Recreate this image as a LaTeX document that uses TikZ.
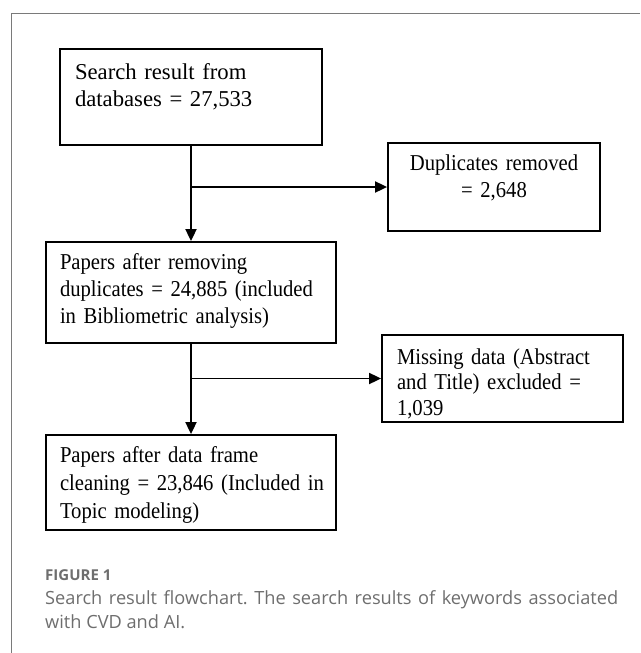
\documentclass[tikz,border=0pt]{standalone}
\usepackage{fontspec}
\setmainfont{Liberation Serif}
\newfontfamily\narrowserif[FakeStretch=0.91]{Liberation Serif}
\newfontfamily\capfont{Open Sans}
\usetikzlibrary{arrows.meta}
\definecolor{framegray}{HTML}{7A7A7A}
\definecolor{capgray}{HTML}{6E6E6E}
\newcommand\bigboxfont{\fontsize{22.7}{27}\selectfont}
\newcommand\boxfont{\narrowserif\fontsize{22.7}{27}\selectfont}
\newcommand\captxtfont{\capfont\fontsize{18.2}{24}\selectfont\frenchspacing}
\newcommand\caplabfont{\capfont\bfseries\fontsize{15}{17}\selectfont}
\begin{document}
\begin{tikzpicture}[x=1pt,y=-1pt,
  flowbox/.style={draw=black, line width=1.8pt, inner ysep=0pt, align=left},
  conn/.style={line width=1.8pt, -{Triangle[length=12pt,width=11pt]}},
  captext/.style={anchor=base west, inner sep=0pt, text=capgray, font=\captxtfont}]
\useasboundingbox (0,0) rectangle (640,653);
\draw[framegray, line width=1pt] (11,653) -- (11,13) -- (640,13);

% box: top 49, bottom 145, first baseline 79
\node[flowbox, font=\bigboxfont, text width=232pt, inner xsep=15pt, text height=30pt, text depth=66pt] (box1) at (191,97)
  {\mbox{Search result from}\\\mbox{databases = 27,533}};
% top 143, bottom 231, baseline 170
\node[flowbox, font=\boxfont, text width=182pt, inner xsep=15pt, text height=27pt, text depth=61pt, align=center] (dup) at (494,187)
  {\mbox{Duplicates removed}\\\mbox{= 2,648}};
% top 242, bottom 343, baseline 269
\node[flowbox, font=\boxfont, text width=262pt, inner xsep=14pt, text height=27pt, text depth=74pt] (box2) at (191,292.5)
  {\mbox{Papers after removing}\\\mbox{duplicates = 24,885 (included}\\\mbox{in Bibliometric analysis)}};
% top 335, bottom 422, baseline 364
\node[flowbox, font=\boxfont\fontsize{22.7}{25.5}\selectfont, text width=211pt, inner xsep=15pt, text height=29pt, text depth=58pt] (miss) at (502.5,378.5)
  {\mbox{Missing data (Abstract}\\\mbox{and Title) excluded =}\\\mbox{1,039}};
% top 435, bottom 530, baseline 462
\node[flowbox, font=\boxfont\fontsize{22.7}{28}\selectfont, text width=262pt, inner xsep=14pt, text height=27pt, text depth=68pt] (box3) at (191,482.5)
  {\mbox{Papers after data frame}\\\mbox{cleaning = 23,846 (Included in}\\\mbox{Topic modeling)}};

\coordinate (j1) at (box1.south |- dup.west);
\coordinate (j2) at (box2.south |- miss.west);
\draw[conn] (box1.south) -- (box2.north);
\draw[conn] (j1) -- (dup.west);
\draw[conn] (box2.south) -- (box3.north);
\draw[conn] (j2) -- (miss.west);

\node[anchor=base west, inner sep=0pt, text=capgray, font=\caplabfont] (figlab) at (45,580) {FIGURE 1};
\node[captext] (cap1) at (45,604) {\makebox[573pt][s]{Search result flowchart. The search results of keywords associated}};
\node[captext] (cap2) at (45,628) {with CVD and AI.};
\end{tikzpicture}
\end{document}
